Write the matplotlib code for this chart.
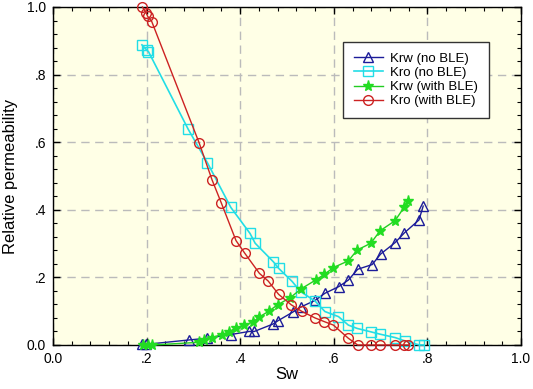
import matplotlib
matplotlib.use("Agg")
import matplotlib.pyplot as plt
from matplotlib.ticker import MultipleLocator, FuncFormatter

plt.rcParams['font.family'] = ['Liberation Sans', 'DejaVu Sans']

# Krw (no BLE)
sw_krw_no = [0.190, 0.199, 0.291, 0.329, 0.380, 0.419, 0.430, 0.470, 0.481, 0.512,
             0.529, 0.560, 0.581, 0.611, 0.631, 0.651, 0.682, 0.700, 0.731, 0.751,
             0.782, 0.791]
krw_no = [0.002, 0.002, 0.015, 0.020, 0.031, 0.040, 0.040, 0.062, 0.072, 0.097,
          0.112, 0.132, 0.153, 0.173, 0.192, 0.224, 0.238, 0.269, 0.303, 0.332,
          0.370, 0.411]

# Kro (no BLE)
sw_kro_no = [0.190, 0.200, 0.204, 0.289, 0.330, 0.380, 0.421, 0.432, 0.471, 0.482,
             0.511, 0.529, 0.560, 0.581, 0.610, 0.631, 0.650, 0.679, 0.699, 0.731,
             0.752, 0.783, 0.793]
kro_no = [0.888, 0.873, 0.868, 0.638, 0.539, 0.407, 0.330, 0.301, 0.246, 0.227,
          0.188, 0.158, 0.130, 0.099, 0.084, 0.059, 0.049, 0.039, 0.032, 0.022,
          0.012, 0.0, 0.0]

# Krw (with BLE)
sw_krw_ble = [0.193, 0.204, 0.212, 0.313, 0.323, 0.339, 0.361, 0.375, 0.391, 0.409,
              0.428, 0.440, 0.462, 0.480, 0.507, 0.530, 0.561, 0.580, 0.599, 0.631,
              0.650, 0.679, 0.699, 0.731, 0.751, 0.758]
krw_ble = [0.0, 0.0, 0.0, 0.008, 0.014, 0.022, 0.031, 0.039, 0.050, 0.058,
           0.069, 0.082, 0.101, 0.119, 0.140, 0.166, 0.192, 0.209, 0.229, 0.249,
           0.281, 0.301, 0.338, 0.368, 0.409, 0.427]

# Kro (with BLE)
sw_kro_ble = [0.191, 0.199, 0.202, 0.211, 0.312, 0.340, 0.360, 0.391, 0.410, 0.441,
              0.460, 0.482, 0.509, 0.531, 0.560, 0.580, 0.599, 0.631, 0.651, 0.679,
              0.699, 0.731, 0.750, 0.759]
kro_ble = [1.0, 0.983, 0.973, 0.957, 0.599, 0.488, 0.419, 0.309, 0.271, 0.212,
           0.189, 0.150, 0.119, 0.100, 0.080, 0.069, 0.059, 0.020, 0.0, 0.0,
           0.0, 0.0, 0.0, 0.0]

fig = plt.figure(figsize=(5.33, 3.89), dpi=100)
ax = fig.add_axes([53/533, 1 - 345/389, (521-53)/533, (345-7)/389])
ax.set_facecolor('#FFFFE6')

ax.plot(sw_krw_no, krw_no, color='#1C1C99', marker='^', mfc='none', ms=7, mew=1.0,
        lw=1.0, label='Krw (no BLE)', clip_on=False, zorder=3)
ax.plot(sw_kro_no, kro_no, color='#22DDE6', marker='s', mfc='none', ms=6.5, mew=1.0,
        lw=1.2, label='Kro (no BLE)', clip_on=False, zorder=3)
ax.plot(sw_krw_ble, krw_ble, color='#22CC22', marker='*', mfc='#22DD22', mec='#22DD22', ms=8,
        lw=1.0, label='Krw (with BLE)', clip_on=False, zorder=3)
ax.plot(sw_kro_ble, kro_ble, color='#CC2222', marker='o', mfc='none', ms=7, mew=1.0,
        lw=1.0, label='Kro (with BLE)', clip_on=False, zorder=4)

ax.set_xlim(0, 1.0)
ax.set_ylim(0, 1.0)
ax.xaxis.set_major_locator(MultipleLocator(0.2))
ax.yaxis.set_major_locator(MultipleLocator(0.2))
ax.xaxis.set_minor_locator(MultipleLocator(0.04))
ax.yaxis.set_minor_locator(MultipleLocator(0.04))

def fmt(v, pos):
    if abs(v) < 1e-9:
        return '0.0'
    if abs(v - 1.0) < 1e-9:
        return '1.0'
    return ('%.1f' % v).lstrip('0')

ax.xaxis.set_major_formatter(FuncFormatter(fmt))
ax.yaxis.set_major_formatter(FuncFormatter(fmt))

ax.tick_params(which='both', direction='in', top=True, right=True, labelsize=10, color='black')
ax.tick_params(which='major', length=5, width=1, pad=5)
ax.tick_params(which='minor', length=3, width=0.8)

ax.grid(True, which='major', color='#BBBBBB', linestyle=(0, (6, 4)), linewidth=1.0)
ax.set_axisbelow(True)
for s in ax.spines.values():
    s.set_linewidth(1.0)
    s.set_color('black')

ax.set_xlabel('Sw', fontsize=12, labelpad=1)
ax.set_ylabel('Relative permeability', fontsize=12, labelpad=6)

leg = ax.legend(loc='upper left', bbox_to_anchor=((343-53)/468, (345-42)/338),
                fontsize=9.5, frameon=True, fancybox=False, edgecolor='#333333',
                framealpha=1.0, handlelength=2.2, borderaxespad=0, labelspacing=0.15,
                handletextpad=0.6, borderpad=0.8)
leg.get_frame().set_linewidth(1.0)

fig.savefig('out.png', dpi=100)
